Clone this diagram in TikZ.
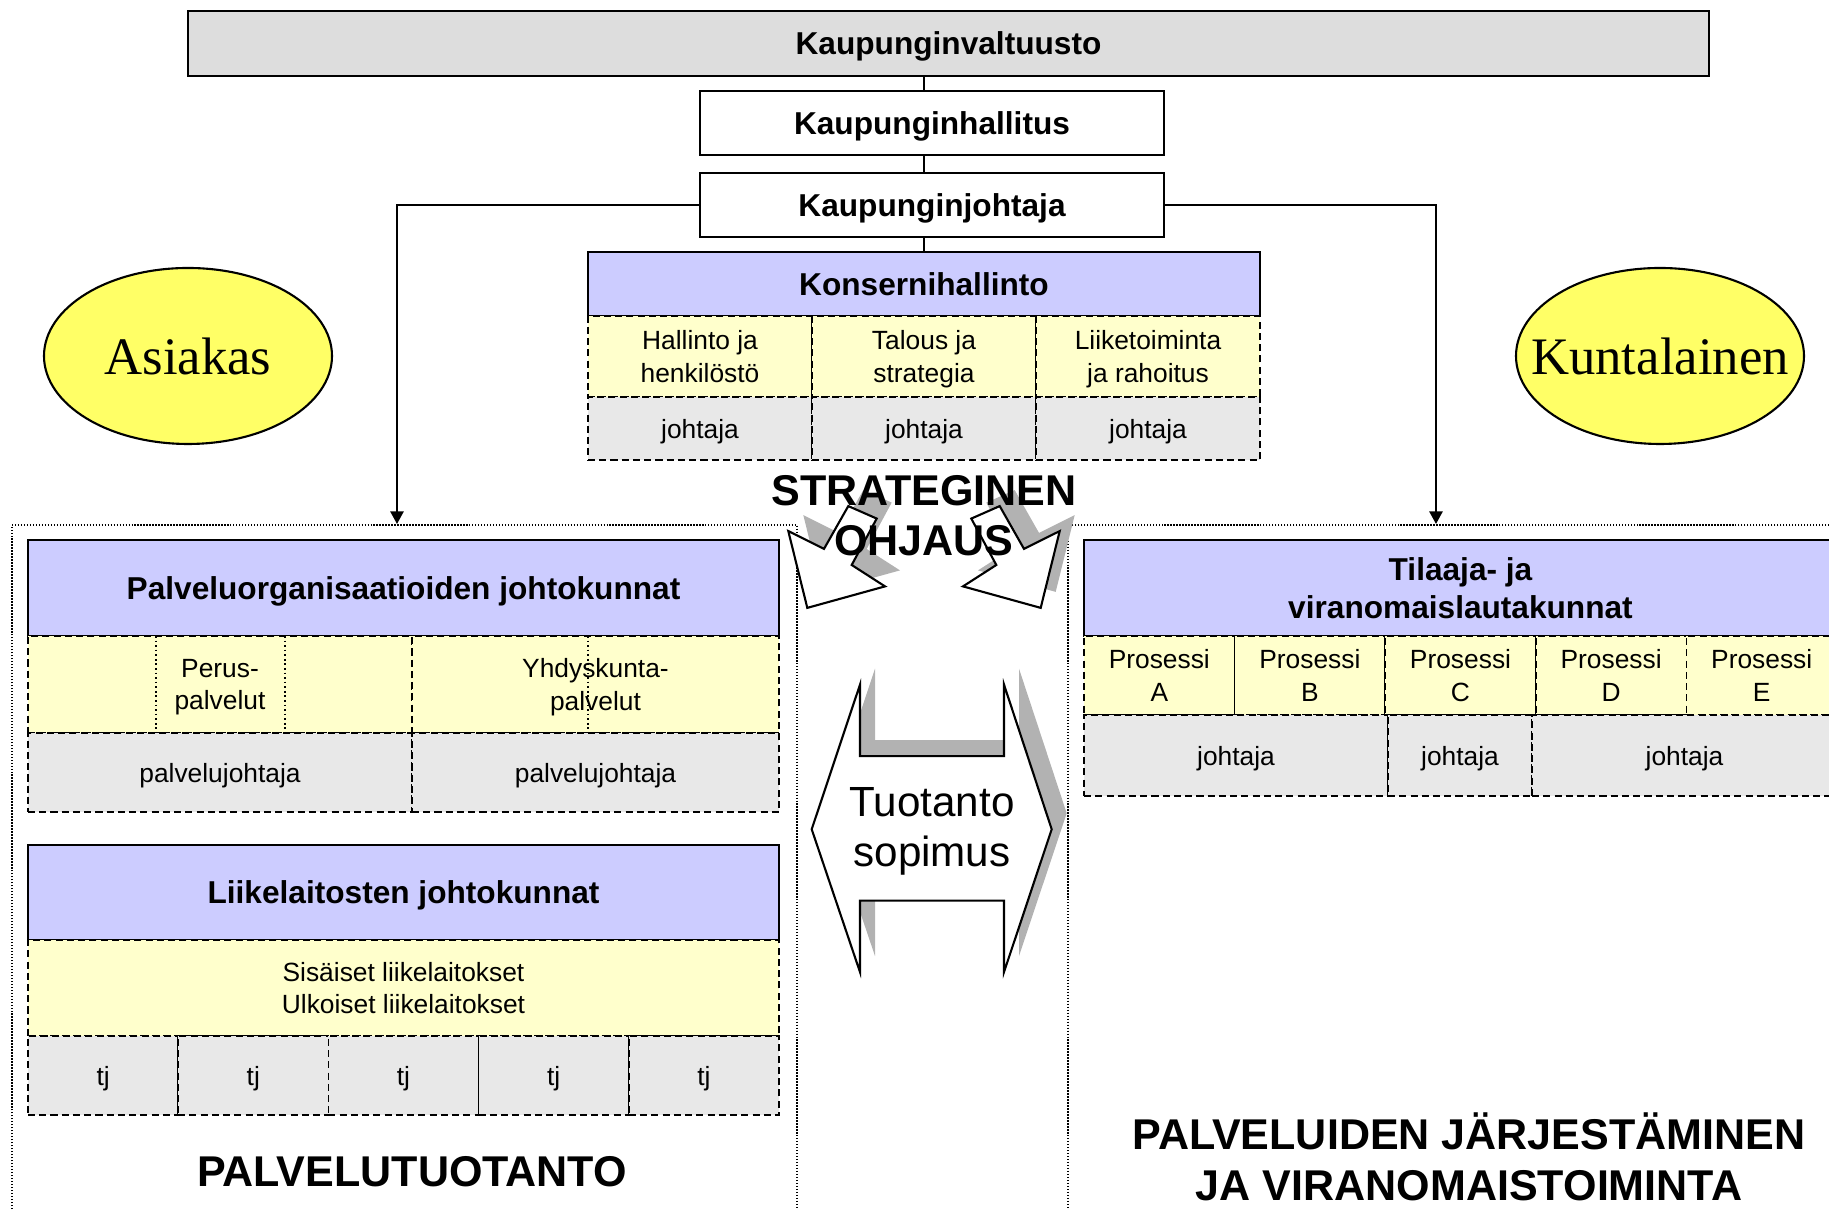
\documentclass[tikz,border=0pt]{standalone}
\usepackage{fontspec}
\setmainfont{Liberation Sans}
\newfontfamily\timesfont{Liberation Serif}
\usetikzlibrary{shapes.geometric,arrows.meta}
\definecolor{headblue}{HTML}{CCCCFF}
\definecolor{cellyellow}{HTML}{FFFFCC}
\definecolor{cellgrey}{HTML}{E8E8E8}
\definecolor{valtgrey}{HTML}{DDDDDD}
\definecolor{ellyellow}{HTML}{FFFF66}
\definecolor{shadegrey}{HTML}{B2B2B2}

\begin{document}
\begin{tikzpicture}[
  box/.style={draw, line width=0.6pt, inner sep=0pt, align=center, text depth=0pt},
  title/.style={box, font=\fontsize{9}{10.9}\selectfont\bfseries},
  head/.style={title, fill=headblue},
  cell/.style={box, line width=0.5pt, dash pattern=on 2pt off 1.2pt, font=\fontsize{7.5}{9.3}\selectfont},
  ycell/.style={cell, fill=cellyellow},
  gcell/.style={cell, fill=cellgrey},
  divider/.style={line width=0.4pt, dash pattern=on 0.5pt off 0.8pt},
  frame/.style={line width=0.4pt, dash pattern=on 0.4pt off 0.45pt},
  link/.style={line width=0.5pt},
  blockarrow/.style={draw, fill=white, line width=0.6pt, line join=miter},
  shade/.style={fill=shadegrey},
  bigtext/.style={font=\fontsize{12.25}{14.5}\selectfont\bfseries, align=center},
  person/.style={ellipse, draw, line width=0.6pt, fill=ellyellow, minimum width=2.88cm, minimum height=1.76cm, inner sep=0pt}
]
  \useasboundingbox (0,0) rectangle (18.29,12.10);
  % frames
  \draw [frame] (0.12,-0.2) -- (0.12,6.85) -- (7.97,6.85) -- (7.97,-0.2);
  \draw [frame] (18.5,6.85) -- (10.68,6.85) -- (10.68,-0.2);
  % nodes
  \node [title, fill=valtgrey, minimum width=15.21cm, minimum height=0.65cm] (valt) at (9.485, 11.665) {Kaupunginvaltuusto};
  \node [title, fill=white, minimum width=4.64cm, minimum height=0.64cm] (hall) at (9.32, 10.87) {Kaupunginhallitus};
  \node [title, fill=white, minimum width=4.64cm, minimum height=0.64cm] (joht) at (9.32, 10.05) {Kaupunginjohtaja};
  \node [person, label={[font=\timesfont\fontsize{15}{18}\selectfont]center:Asiakas}] (asiakas) at (1.88, 8.54) {};
  \node [person, label={[font=\timesfont\fontsize{15}{18}\selectfont]center:Kuntalainen}] (kunta) at (16.60, 8.54) {};
  %% konsernihallinto
  \node [head, minimum width=6.72cm, minimum height=0.64cm] (kons) at (9.24, 9.26) {Konsernihallinto};
  \node [ycell, minimum width=2.24cm, minimum height=0.81cm] (k1) at (7.00, 8.535) {Hallinto ja\\henkilöstö};
  \node [ycell, minimum width=2.24cm, minimum height=0.81cm] (k2) at (9.24, 8.535) {Talous ja\\strategia};
  \node [ycell, minimum width=2.24cm, minimum height=0.81cm] (k3) at (11.48, 8.535) {Liiketoiminta\\ja rahoitus};
  \foreach \x [count=\i] in {7.00, 9.24, 11.48}
    \node [gcell, minimum width=2.24cm, minimum height=0.63cm] (kj\i) at (\x, 7.815) {johtaja};
  %% palveluorganisaatiot
  \node [head, minimum width=7.51cm, minimum height=0.96cm] (palv) at (4.035, 6.22) {Palveluorganisaatioiden johtokunnat};
  \node [ycell, minimum width=3.84cm, minimum height=0.97cm] (perus) at (2.20, 5.255) {Perus-\\palvelut};
  \node [ycell, minimum width=3.67cm, minimum height=0.97cm] (yhdys) at (5.955, 5.255) {Yhdyskunta-\\palvelut};
  \node [gcell, minimum width=3.84cm, minimum height=0.79cm] (pj1) at (2.20, 4.375) {palvelujohtaja};
  \node [gcell, minimum width=3.67cm, minimum height=0.79cm] (pj2) at (5.955, 4.375) {palvelujohtaja};
  \draw [divider] (1.56, 5.74) -- (1.56, 4.77);
  \draw [divider] (2.85, 5.74) -- (2.85, 4.77);
  \draw [divider] (5.88, 5.74) -- (5.88, 4.77);
  %% liikelaitokset
  \node [head, minimum width=7.51cm, minimum height=0.95cm] (liike) at (4.035, 3.175) {Liikelaitosten johtokunnat};
  \node [ycell, minimum width=7.51cm, minimum height=0.96cm] (sis) at (4.035, 2.22) {Sisäiset liikelaitokset\\Ulkoiset liikelaitokset};
  \foreach \i in {0,...,4}
    \node [gcell, minimum width=1.502cm, minimum height=0.79cm] (tj\i) at (1.031+1.502*\i, 1.345) {tj};
  \node [bigtext] (tuot) at (4.12, 0.38) {PALVELUTUOTANTO};
  %% tilaaja
  \node [head, minimum width=7.53cm, minimum height=0.96cm] (til) at (14.605, 6.22) {Tilaaja- ja\\viranomaislautakunnat};
  \foreach \l [count=\i from 0] in {A,B,C,D,E}
    \node [ycell, minimum width=1.506cm, minimum height=0.79cm] (pr\i) at (11.593+1.506*\i, 5.345) {Prosessi\\\l};
  \node [gcell, minimum width=3.04cm, minimum height=0.81cm] (tj1) at (12.36, 4.545) {johtaja};
  \node [gcell, minimum width=1.44cm, minimum height=0.81cm] (tj2) at (14.60, 4.545) {johtaja};
  \node [gcell, minimum width=3.05cm, minimum height=0.81cm] (tj3) at (16.845, 4.545) {johtaja};
  \node [bigtext, font=\fontsize{12.25}{14.7}\selectfont\bfseries] (jarj) at (14.69, 0.53) {PALVELUIDEN JÄRJESTÄMINEN\\JA VIRANOMAISTOIMINTA};
  % edges
  \coordinate (lefttip) at (3.97, 6.86);
  \coordinate (righttip) at (14.36, 6.86);
  \draw [link] (valt.south -| kons.north) -- (hall.north -| kons.north);
  \draw [link] (hall.south -| kons.north) -- (joht.north -| kons.north);
  \draw [link] (joht.south -| kons.north) -- (kons.north);
  \draw [link, -{Triangle[length=3.6pt,width=3.8pt]}] (joht.west) -| (lefttip);
  \draw [link, -{Triangle[length=3.6pt,width=3.8pt]}] (joht.east) -| (righttip);
  % block arrows
  \fill [shade, shift={(0.15,0.16)}] (8.073,6.021) -- (7.883,6.789) -- (8.24,6.611) -- (8.483,7.039) -- (8.767,6.914) -- (8.517,6.45) -- (8.85,6.236) -- cycle;
  \fill [shade, shift={(0.15,0.16)}] (10.407,6.021) -- (10.597,6.789) -- (10.24,6.611) -- (9.997,7.039) -- (9.713,6.914) -- (9.963,6.45) -- (9.63,6.236) -- cycle;
  \fill [shade, shift={(0.15,0.16)}] (8.117,3.807) -- (8.60,5.254) -- (8.60,4.539) -- (10.04,4.539) -- (10.04,5.254) -- (10.517,3.807) -- (10.04,2.379) -- (10.04,3.093) -- (8.60,3.093) -- (8.60,2.379) -- cycle;
  \draw [blockarrow] (8.073,6.021) -- (7.883,6.789) -- (8.24,6.611) -- (8.483,7.039) -- (8.767,6.914) -- (8.517,6.45) -- (8.85,6.236) -- cycle;
  \draw [blockarrow] (10.407,6.021) -- (10.597,6.789) -- (10.24,6.611) -- (9.997,7.039) -- (9.713,6.914) -- (9.963,6.45) -- (9.63,6.236) -- cycle;
  \draw [blockarrow] (8.117,3.807) -- (8.60,5.254) -- (8.60,4.539) -- (10.04,4.539) -- (10.04,5.254) -- (10.517,3.807) -- (10.04,2.379) -- (10.04,3.093) -- (8.60,3.093) -- (8.60,2.379) -- cycle;
  \node [align=center, font=\fontsize{12}{14.2}\selectfont] (sopimus) at (9.32, 3.79) {Tuotanto\\sopimus};
  \node [bigtext, font=\fontsize{12.25}{14.2}\selectfont\bfseries] (ohjaus) at (9.24, 6.94) {STRATEGINEN\\OHJAUS};
\end{tikzpicture}
\end{document}
